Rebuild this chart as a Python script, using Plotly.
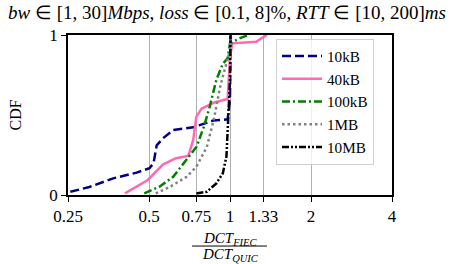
import plotly.graph_objects as go

series_names = ["10kB", "40kB", "100kB", "1MB", "10MB"]

x_10kB = [0.255, 0.30, 0.368, 0.45, 0.502, 0.52, 0.534, 0.563, 0.615, 0.73, 0.866, 0.98, 1.0, 1.005]
y_10kB = [0.02, 0.05, 0.104, 0.14, 0.167, 0.20, 0.31, 0.354, 0.406, 0.423, 0.465, 0.473, 0.60, 1.0]

x_40kB = [0.407, 0.495, 0.563, 0.63, 0.70, 0.73, 0.75, 0.785, 0.88, 0.98, 1.0, 1.02, 1.25, 1.37]
y_40kB = [0.01, 0.094, 0.19, 0.23, 0.244, 0.344, 0.49, 0.54, 0.58, 0.60, 0.864, 0.948, 0.958, 1.0]

x_100kB = [0.48, 0.547, 0.615, 0.69, 0.75, 0.80, 0.84, 0.89, 0.94, 0.98, 1.0, 1.09, 1.17]
y_100kB = [0.01, 0.052, 0.114, 0.22, 0.30, 0.427, 0.55, 0.72, 0.82, 0.854, 0.948, 0.98, 1.0]

x_1MB = [0.53, 0.60, 0.69, 0.75, 0.82, 0.87, 0.92, 0.97, 1.0, 1.01]
y_1MB = [0.01, 0.052, 0.114, 0.177, 0.30, 0.47, 0.68, 0.82, 0.906, 1.0]

x_10MB = [0.75, 0.82, 0.89, 0.94, 0.97, 0.98, 1.0, 1.005]
y_10MB = [0.01, 0.02, 0.073, 0.135, 0.24, 0.41, 0.72, 1.0]

x_tick_vals = [0.25, 0.5, 0.75, 1, 1.33, 2, 4]
x_tick_text = ["0.25", "0.5", "0.75", "1", "1.33", "2", "4"]
y_tick_vals = [0, 1]
y_tick_text = ["0", "1"]

colors = ["#000080", "#ff69b4", "#008000", "#808080", "#000000"]
dashes = ["9px,4px", "solid", "8px,3px,2px,3px", "2.5px,3px", "7px,2px,2px,2px,2px,2px"]
xs = [x_10kB, x_40kB, x_100kB, x_1MB, x_10MB]
ys = [y_10kB, y_40kB, y_100kB, y_1MB, y_10MB]

SERIF = "Liberation Serif"

fig = go.Figure()
for name, x, y, c, d in zip(series_names, xs, ys, colors, dashes):
    fig.add_trace(go.Scatter(x=x, y=y, mode="lines", name=name,
                             line=dict(color=c, width=2.5, dash=d)))

fig.update_layout(
    width=454, height=264,
    margin=dict(l=68, r=62, t=35, b=69),
    paper_bgcolor="white", plot_bgcolor="white",
    font=dict(family=SERIF, size=15, color="black"),
    showlegend=True,
    legend=dict(x=0.642, y=0.978, xanchor="left", yanchor="top",
                bgcolor="rgba(255,255,255,0.8)", bordercolor="#d0d0d0", borderwidth=1,
                font=dict(family=SERIF, size=15.2), tracegroupgap=0, itemwidth=40),
    title=dict(text="<i>bw</i> ∈ [1, 30]<i>Mbps</i>, <i>loss</i> ∈ [0.1, 8]%, <i>RTT</i> ∈ [10, 200]<i>ms</i>",
               x=0.5, xanchor="center", y=0.955, yanchor="middle",
               font=dict(family=SERIF, size=19)),
)
fig.update_xaxes(type="log", range=[-0.60206, 0.60206],
                 tickvals=x_tick_vals, ticktext=x_tick_text,
                 ticks="outside", ticklen=5, tickwidth=1.2, tickcolor="black",
                 showgrid=True, gridcolor="#b0b0b0", gridwidth=1,
                 showline=True, linecolor="black", linewidth=1.5, mirror=True,
                 zeroline=False, tickfont=dict(family=SERIF, size=17))
fig.update_yaxes(range=[0, 1], tickvals=y_tick_vals, ticktext=y_tick_text,
                 ticks="outside", ticklen=5, tickwidth=1.2, tickcolor="black",
                 showgrid=False, showline=True, linecolor="black", linewidth=1.5, mirror=True,
                 zeroline=False, tickfont=dict(family=SERIF, size=17))

fig.add_annotation(text="CDF", textangle=-90, xref="paper", yref="paper",
                   x=-0.165, y=0.5, xanchor="center", yanchor="middle", showarrow=False,
                   font=dict(family=SERIF, size=16))
fig.add_annotation(text="<i>DCT</i><sub><i>FIEC</i></sub>", xref="paper", yref="paper",
                   x=0.5, y=-0.275, xanchor="center", yanchor="middle", showarrow=False,
                   font=dict(family=SERIF, size=15))
fig.add_annotation(text="<i>DCT</i><sub><i>QUIC</i></sub>", xref="paper", yref="paper",
                   x=0.5, y=-0.375, xanchor="center", yanchor="middle", showarrow=False,
                   font=dict(family=SERIF, size=15))
fig.add_shape(type="line", xref="paper", yref="paper", x0=0.383, x1=0.614,
              y0=-0.319, y1=-0.319, line=dict(color="black", width=1))

fig.write_html("out.html", config={"displayModeBar": False},
               post_script="document.body.style.margin='0';document.body.style.overflow='hidden';")
